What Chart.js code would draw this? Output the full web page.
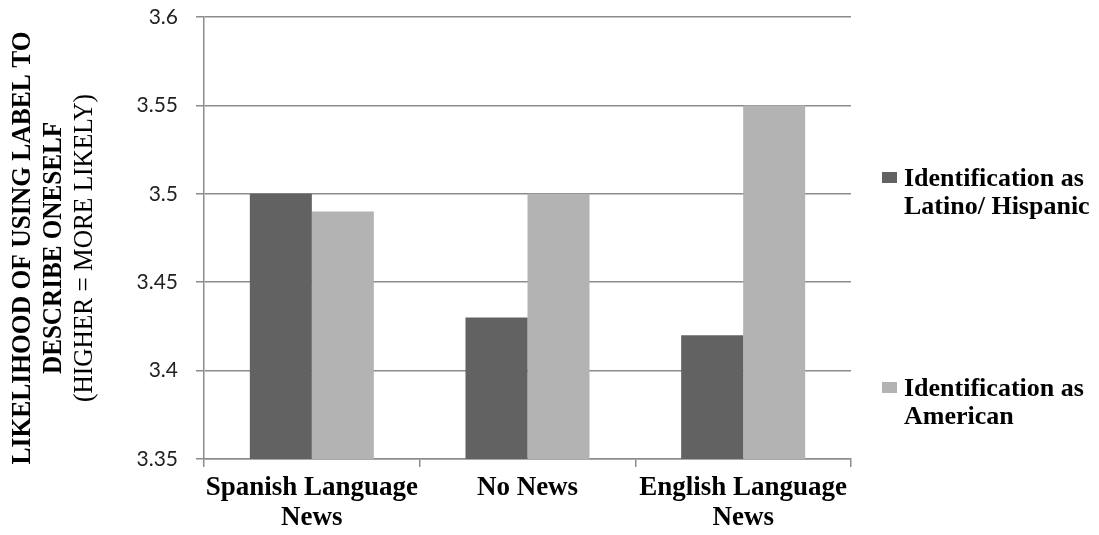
<!DOCTYPE html>
<html>
<head>
<meta charset="utf-8">
<script src="https://cdn.jsdelivr.net/npm/chart.js@4"></script>
<style>
  html, body { margin: 0; padding: 0; background: #fff; }
  #wrap { position: relative; width: 1099px; height: 535px; }
  .leg { position: absolute; left: 882px; font: bold 26px "Liberation Serif", serif; color: #000; line-height: 28px; }
  .leg .sw { position: absolute; left: 0; width: 15px; height: 11px; }
  .leg .tx { margin-left: 22px; white-space: nowrap; }
</style>
</head>
<body>
<div id="wrap">
  <canvas id="newsChart" width="1099" height="535"></canvas>
  <div class="leg" style="top:164px"><span class="sw" style="top:8px;background:#626262"></span><div class="tx">Identification as<br>Latino/ Hispanic</div></div>
  <div class="leg" style="top:374px"><span class="sw" style="top:8px;background:#b3b3b3"></span><div class="tx">Identification as<br>American</div></div>
</div>
<script>
// categories and values
const categories = [['Spanish Language', 'News'], 'No News', ['English Language', 'News']];
const latinoValues = [3.50, 3.43, 3.42];
const americanValues = [3.49, 3.50, 3.55];
const seriesNames = ['Identification as Latino/ Hispanic', 'Identification as American'];
const yTitleLines = ['LIKELIHOOD OF USING LABEL TO', 'DESCRIBE ONESELF', '(HIGHER = MORE LIKELY)'];

const serif = '"Liberation Serif", "Times New Roman", serif';

// y axis title, three lines, last one not bold
const yTitlePlugin = {
    id: 'yTitle',
    afterDraw(chart) {
        const ctx = chart.ctx;
        const xs = [23, 54, 85];
        const maxW = [433, 252, 308];
        ctx.save();
        ctx.fillStyle = '#000';
        ctx.textAlign = 'center';
        ctx.textBaseline = 'middle';
        yTitleLines.forEach((line, i) => {
            ctx.save();
            ctx.translate(xs[i], 248);
            ctx.rotate(-Math.PI / 2);
            ctx.font = (i < 2 ? 'bold ' : '') + '27px ' + serif;
            ctx.fillText(line, 0, 0, maxW[i]);
            ctx.restore();
        });
        ctx.restore();
    }
};

new Chart(document.getElementById('newsChart'), {
    type: 'bar',
    data: {
        labels: categories,
        datasets: [
            { label: seriesNames[0], data: latinoValues, backgroundColor: '#626262', categoryPercentage: 0.575, barPercentage: 1 },
            { label: seriesNames[1], data: americanValues, backgroundColor: '#b3b3b3', categoryPercentage: 0.575, barPercentage: 1 }
        ]
    },
    options: {
        responsive: false,
        animation: false,
        layout: { padding: { left: 0, right: 248, top: 17, bottom: 0 } },
        plugins: { legend: { display: false }, tooltip: { enabled: false } },
        scales: {
            x: {
                afterFit(scale) { scale.height = 76; },
                grid: { offset: true, drawOnChartArea: false, drawTicks: true, tickLength: 8, color: '#8c8c8c', lineWidth: 1.5 },
                border: { color: '#8c8c8c', width: 1.5 },
                ticks: { color: '#000', font: { family: serif, size: 27, weight: 'bold', lineHeight: 1.11 }, padding: 6, maxRotation: 0, autoSkip: false }
            },
            y: {
                min: 3.35,
                max: 3.6,
                afterFit(scale) { scale.width = 204; scale.paddingTop = 0; scale.paddingBottom = 0; },
                grid: { color: '#8c8c8c', lineWidth: 1.5, tickLength: 8 },
                border: { color: '#8c8c8c', width: 1.5 },
                ticks: { stepSize: 0.05, color: '#222', padding: 18, font: { family: 'Lato, "Open Sans", sans-serif', size: 21 },
                    callback: v => String(Math.round(v * 100) / 100) }
            }
        }
    },
    plugins: [yTitlePlugin]
});
</script>
</body>
</html>
